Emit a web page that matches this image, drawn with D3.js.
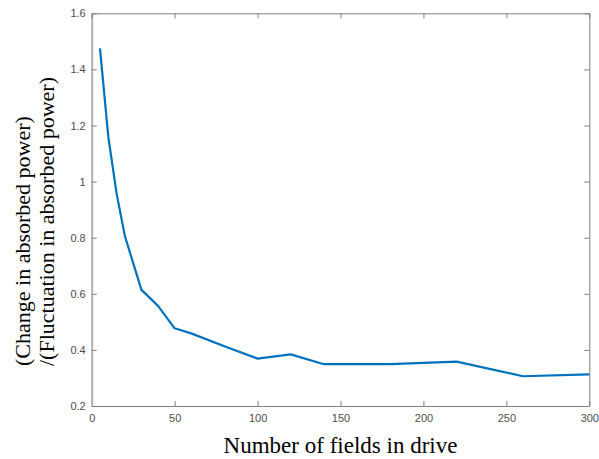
<!DOCTYPE html>
<html>
<head>
<meta charset="utf-8">
<script src="https://cdn.jsdelivr.net/npm/d3@7"></script>
<style>
  body { margin: 0; background: #fff; }
  .tick text { font-family: "Liberation Sans", Arial, sans-serif; font-size: 11px; fill: #4d4d4d; }
  .lbl { font-family: "Liberation Serif", "Times New Roman", serif; font-size: 23px; fill: #000; }
</style>
</head>
<body>
<div id="chart"></div>
<script>
// data
var fields = [5, 10, 15, 20, 30, 40, 50, 60, 80, 100, 120, 140, 180, 220, 260, 300];
var ratio = [1.475, 1.16, 0.958, 0.806, 0.614, 0.557, 0.477, 0.459, 0.413, 0.369, 0.384, 0.349, 0.349, 0.358, 0.306, 0.313];

var xTicks = [0, 50, 100, 150, 200, 250, 300];
var yTicks = [0.2, 0.4, 0.6, 0.8, 1, 1.2, 1.4, 1.6];

var width = 599,
    height = 459;

// plot box edges
var boxLeft = 91.7, boxRight = 589.3, boxTop = 13.3, boxBottom = 406;

var svg = d3.select("#chart").append("svg")
  .attr("width", width)
  .attr("height", height);

var x = d3.scaleLinear().domain([0, 300]).range([boxLeft, boxRight]);
var y = d3.scaleLinear().domain([0.2, 1.6]).range([boxBottom, boxTop]);

var axisColor = "#808080";

// bottom / left axes with inward ticks
var gx = svg.append("g")
  .attr("transform", "translate(0," + boxBottom + ")")
  .call(d3.axisBottom(x).tickValues(xTicks).tickSizeInner(-5).tickSizeOuter(0).tickPadding(8));
var gy = svg.append("g")
  .attr("transform", "translate(" + boxLeft + ",0)")
  .call(d3.axisLeft(y).tickValues(yTicks).tickFormat(d3.format("")).tickSizeInner(-5).tickSizeOuter(0).tickPadding(6));

// top / right (box) with ticks, no labels
var gt = svg.append("g")
  .attr("transform", "translate(0," + boxTop + ")")
  .call(d3.axisTop(x).tickValues(xTicks).tickSizeInner(-5).tickSizeOuter(0).tickFormat(""));
var gr = svg.append("g")
  .attr("transform", "translate(" + boxRight + ",0)")
  .call(d3.axisRight(y).tickValues(yTicks).tickSizeInner(-5).tickSizeOuter(0).tickFormat(""));

[gx, gy, gt, gr].forEach(function(g) {
  g.select(".domain").attr("stroke", axisColor).attr("stroke-width", 1);
  g.selectAll(".tick line").attr("stroke", axisColor);
});
gy.select(".domain").attr("stroke", "#b0b0b0").attr("stroke-width", 2);

// data line
var line = d3.line()
  .x(function(d, i) { return x(fields[i]); })
  .y(function(d) { return y(d); });

svg.append("path")
  .datum(ratio)
  .attr("d", line)
  .attr("fill", "none")
  .attr("stroke", "#0072BD")
  .attr("stroke-width", 2.2)
  .attr("stroke-linejoin", "round");

// axis labels
svg.append("text")
  .attr("class", "lbl")
  .attr("x", (boxLeft + boxRight) / 2)
  .attr("y", 453)
  .attr("text-anchor", "middle")
  .text("Number of fields in drive");

// y label: two lines, left aligned (start at the bottom)
var ylab = svg.append("text")
  .attr("class", "lbl")
  .style("font-size", "22px")
  .attr("transform", "translate(30,366) rotate(-90)")
  .attr("text-anchor", "start");
ylab.append("tspan").attr("x", 0).attr("dy", 0).text("(Change in absorbed power)");
ylab.append("tspan").attr("x", 0).attr("dy", 23.5).text("/(Fluctuation in absorbed power)");
</script>
</body>
</html>
